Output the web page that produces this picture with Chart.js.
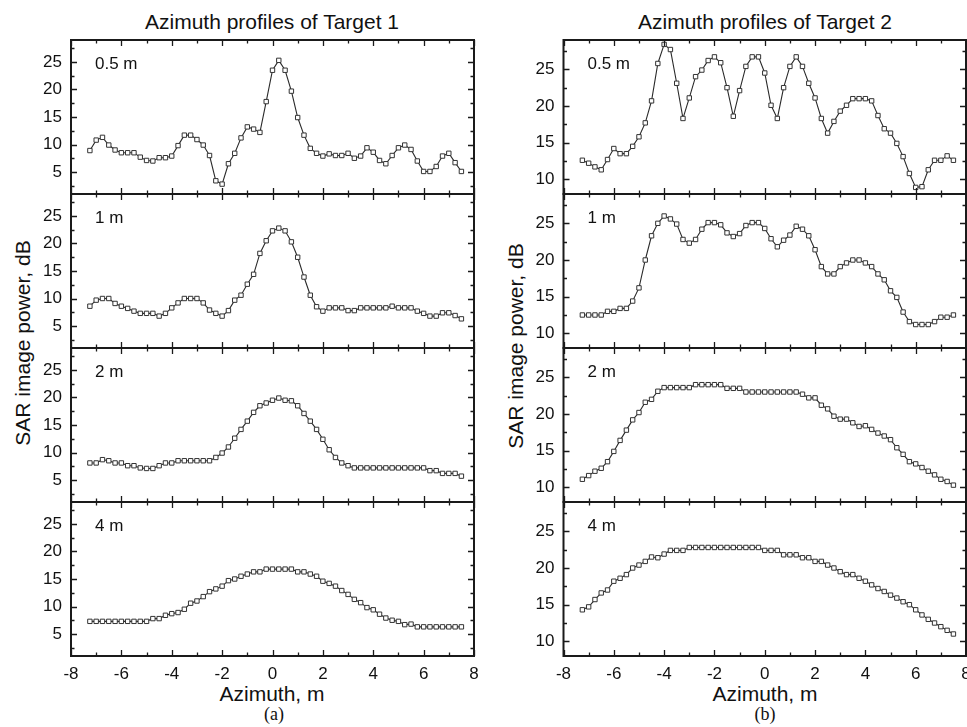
<!DOCTYPE html>
<html>
<head>
<meta charset="utf-8">
<script src="https://cdn.jsdelivr.net/npm/chart.js@4/dist/chart.umd.min.js"></script>
<style>
    html, body { margin: 0; padding: 0; background: #fff; }
    body { width: 967px; height: 727px; overflow: hidden; position: relative; font-family: "Liberation Sans", Arial, sans-serif; color: #111; }
    canvas { position: absolute; }
    .txt { position: absolute; white-space: nowrap; transform: translate(-50%, -50%); line-height: 1; }
    .panel-label { position: absolute; white-space: nowrap; font-size: 17px; line-height: 1; transform: translateY(-50%); }
</style>
</head>
<body>

<div class="txt" style="left:272px; top:21px; font-size:21px;">Azimuth profiles of Target 1</div>
<div class="txt" style="left:765px; top:21px; font-size:21px;">Azimuth profiles of Target 2</div>
<div class="txt" style="left:22px; top:343px; font-size:21px; transform: translate(-50%, -50%) rotate(-90deg);">SAR image power, dB</div>
<div class="txt" style="left:515px; top:346px; font-size:21px; transform: translate(-50%, -50%) rotate(-90deg);">SAR image power, dB</div>
<div class="txt" style="left:272px; top:693px; font-size:21px;">Azimuth, m</div>
<div class="txt" style="left:765px; top:693px; font-size:21px;">Azimuth, m</div>
<div class="txt" style="left:274px; top:714px; font-size:18px; font-family:'Liberation Serif', 'Times New Roman', serif;">(a)</div>
<div class="txt" style="left:765px; top:714px; font-size:18px; font-family:'Liberation Serif', 'Times New Roman', serif;">(b)</div>

<script>
// data
const azimuth = [-7.25, -7, -6.75, -6.5, -6.25, -6, -5.75, -5.5, -5.25, -5, -4.75, -4.5, -4.25, -4, -3.75, -3.5, -3.25, -3, -2.75, -2.5,
    -2.25, -2, -1.75, -1.5, -1.25, -1, -0.75, -0.5, -0.25, 0, 0.25, 0.5, 0.75, 1, 1.25, 1.5, 1.75, 2, 2.25, 2.5,
    2.75, 3, 3.25, 3.5, 3.75, 4, 4.25, 4.5, 4.75, 5, 5.25, 5.5, 5.75, 6, 6.25, 6.5, 6.75, 7, 7.25, 7.5];

const panelLabels = ['0.5 m', '1 m', '2 m', '4 m'];

// Target 1
const t1_05 = [8.9, 10.8, 11.3, 9.9, 9.0, 8.5, 8.5, 8.5, 7.7, 7.1, 7.0, 7.6, 7.6, 7.9, 9.8, 11.7, 11.7, 10.9, 9.9, 8.0,
    3.4, 2.8, 6.5, 8.4, 11.2, 13.2, 12.8, 12.2, 17.8, 23.5, 25.3, 23.5, 19.7, 14.9, 11.7, 9.3, 8.4, 7.9, 8.3, 8.0,
    8.0, 8.4, 7.5, 7.9, 9.4, 8.6, 7.1, 6.5, 8.0, 9.4, 9.9, 9.1, 7.0, 5.1, 5.1, 6.0, 7.9, 8.4, 6.7, 5.1];
const t1_1 = [8.6, 9.7, 10.0, 10.0, 9.1, 8.6, 8.2, 7.7, 7.3, 7.3, 7.3, 6.8, 7.3, 8.3, 9.2, 10.0, 10.0, 10.0, 9.2, 7.9,
    7.3, 6.8, 7.8, 9.7, 10.6, 12.6, 14.4, 18.2, 20.5, 22.3, 22.8, 22.3, 20.3, 17.5, 13.9, 10.6, 8.5, 7.7, 8.3, 8.3,
    8.3, 7.8, 7.8, 8.3, 8.3, 8.3, 8.3, 8.3, 8.6, 8.3, 8.3, 8.3, 7.7, 7.3, 6.8, 6.8, 7.4, 7.4, 6.9, 6.3];
const t1_2 = [8.1, 8.1, 8.7, 8.5, 8.1, 8.1, 7.6, 7.6, 7.2, 7.1, 7.1, 7.6, 8.1, 8.1, 8.5, 8.5, 8.5, 8.5, 8.5, 8.5,
    9.1, 9.9, 11.0, 12.6, 14.2, 15.7, 17.3, 18.5, 19.0, 19.5, 19.9, 19.5, 19.4, 18.5, 17.1, 15.7, 14.2, 12.4, 10.5, 9.1,
    8.1, 7.6, 7.2, 7.2, 7.2, 7.2, 7.2, 7.2, 7.2, 7.2, 7.2, 7.2, 7.2, 7.2, 6.7, 6.7, 6.2, 6.2, 6.2, 5.7];
const t1_4 = [7.3, 7.3, 7.3, 7.3, 7.3, 7.3, 7.3, 7.3, 7.3, 7.3, 7.8, 7.8, 8.4, 8.7, 8.9, 9.5, 10.6, 11.0, 11.8, 12.7,
    13.2, 13.7, 14.7, 15.0, 15.5, 15.9, 16.3, 16.3, 16.8, 16.8, 16.8, 16.8, 16.8, 16.3, 16.3, 15.9, 15.5, 14.6, 14.2, 13.7,
    12.9, 12.2, 11.3, 10.7, 9.8, 9.4, 8.6, 7.9, 7.5, 7.3, 6.7, 6.8, 6.3, 6.3, 6.3, 6.3, 6.3, 6.3, 6.3, 6.3];

// Target 2
const t2_05 = [12.6, 12.2, 11.7, 11.3, 12.7, 14.2, 13.5, 13.5, 14.5, 15.8, 17.7, 20.7, 25.8, 28.4, 27.7, 23.1, 18.3, 21.1, 24.0, 24.9,
    26.2, 26.7, 25.9, 22.5, 18.6, 22.1, 25.4, 26.7, 26.7, 24.5, 20.1, 18.3, 22.5, 25.4, 26.7, 25.4, 23.1, 21.1, 18.3, 16.3,
    17.9, 19.3, 20.1, 21.0, 21.0, 21.0, 20.7, 18.7, 16.9, 16.3, 14.9, 13.1, 10.8, 8.9, 9.0, 11.3, 12.6, 12.6, 13.2, 12.6];
const t2_1 = [12.5, 12.5, 12.5, 12.5, 13.0, 13.0, 13.4, 13.4, 14.4, 16.2, 20.0, 23.3, 25.0, 26.0, 25.6, 24.9, 22.8, 22.3, 22.8, 24.2,
    25.1, 25.1, 24.8, 23.7, 23.2, 23.6, 24.7, 25.1, 25.1, 24.3, 22.9, 21.8, 22.7, 23.4, 24.6, 24.2, 23.3, 21.4, 19.1, 18.1,
    18.1, 19.1, 19.6, 20.0, 20.0, 19.6, 19.1, 18.1, 17.3, 15.8, 14.9, 12.9, 11.6, 11.2, 11.2, 11.2, 11.6, 12.2, 12.2, 12.5];
const t2_2 = [11.1, 11.6, 12.2, 12.6, 13.5, 14.9, 16.4, 17.8, 19.2, 20.2, 21.6, 22.0, 23.1, 23.6, 23.6, 23.6, 23.6, 23.6, 24.0, 24.0,
    24.0, 24.0, 24.0, 23.5, 23.5, 23.5, 23.0, 23.0, 23.0, 23.0, 23.0, 23.0, 23.0, 23.0, 23.0, 22.7, 22.2, 22.2, 21.2, 20.7,
    19.7, 19.3, 19.3, 18.8, 18.3, 18.4, 17.9, 17.4, 17.0, 16.5, 15.4, 14.5, 13.5, 13.2, 12.7, 12.2, 11.7, 11.1, 10.8, 10.3];
const t2_4 = [14.3, 14.7, 15.7, 16.6, 17.0, 18.2, 18.6, 19.1, 20.0, 20.4, 20.9, 21.5, 21.4, 21.9, 22.4, 22.4, 22.4, 22.8, 22.8, 22.8,
    22.8, 22.8, 22.8, 22.8, 22.8, 22.8, 22.8, 22.8, 22.8, 22.4, 22.4, 22.4, 21.8, 21.8, 21.8, 21.4, 21.4, 20.9, 20.9, 20.4,
    20.0, 19.5, 19.1, 19.1, 18.6, 18.2, 17.7, 17.2, 16.8, 16.3, 15.9, 15.4, 15.0, 14.3, 13.6, 13.0, 12.5, 12.0, 11.5, 11.0];

// tick labels
const xTicks = [-8, -6, -4, -2, 0, 2, 4, 6, 8];
const leftYTicks = [5, 10, 15, 20, 25];
const rightYTicks = [10, 15, 20, 25];

// layout
const panelEdges = [40, 194, 348, 502, 656];
const fontFamily = '"Liberation Sans", Arial, sans-serif';

const columns = [
    { left: 0, width: 490, axisWidth: 71, padRight: 16, yMin: 1, yMax: 29, yTicks: leftYTicks, series: [t1_05, t1_1, t1_2, t1_4] },
    { left: 480, width: 500, axisWidth: 83.5, padRight: 14, yMin: 8, yMax: 29, yTicks: rightYTicks, series: [t2_05, t2_1, t2_2, t2_4] }
];

// box around the plot with inward ticks on all four sides
const framePlugin = {
    id: 'frame',
    afterDatasetsDraw(chart) {
        const { ctx, chartArea: a, scales } = chart;
        const x = scales.x, y = scales.y;
        ctx.save();
        ctx.strokeStyle = '#1a1a1a';
        ctx.lineWidth = 1.3;
        ctx.beginPath();
        for (let v = -8; v <= 8; v++) {
            const len = v % 2 === 0 ? 6 : 3.5;
            const px = Math.round(x.getPixelForValue(v)) + 0.5;
            ctx.moveTo(px, a.top); ctx.lineTo(px, a.top + len);
            ctx.moveTo(px, a.bottom); ctx.lineTo(px, a.bottom - len);
        }
        for (let v = Math.ceil(y.min / 2.5) * 2.5; v <= y.max; v += 2.5) {
            const len = v % 5 === 0 ? 6 : 3.5;
            const py = Math.round(y.getPixelForValue(v)) + 0.5;
            ctx.moveTo(a.left, py); ctx.lineTo(a.left + len, py);
            ctx.moveTo(a.right, py); ctx.lineTo(a.right - len, py);
        }
        ctx.stroke();
        ctx.lineWidth = 2;
        ctx.strokeRect(a.left, a.top, a.right - a.left, a.bottom - a.top);
        ctx.restore();
    }
};

columns.forEach(col => {
    col.series.forEach((values, k) => {
        const isBottom = k === col.series.length - 1;
        const top = panelEdges[k] - 10;
        const height = (panelEdges[k + 1] - panelEdges[k]) + 10 + (isBottom ? 30 : 10);

        const canvas = document.createElement('canvas');
        canvas.width = col.width;
        canvas.height = height;
        canvas.style.left = col.left + 'px';
        canvas.style.top = top + 'px';
        document.body.appendChild(canvas);

        const label = document.createElement('div');
        label.className = 'panel-label';
        label.textContent = panelLabels[k];
        label.style.left = (col.left + col.axisWidth + 24) + 'px';
        label.style.top = (panelEdges[k] + 23) + 'px';
        document.body.appendChild(label);

        new Chart(canvas.getContext('2d'), {
            type: 'line',
            data: {
                datasets: [{
                    data: azimuth.map((a, i) => ({ x: a, y: values[i] })),
                    borderColor: '#2a2a2a',
                    borderWidth: 1.1,
                    tension: 0,
                    pointStyle: 'rect',
                    pointRadius: 3.1,
                    pointBackgroundColor: '#ffffff',
                    pointBorderColor: '#333333',
                    pointBorderWidth: 1
                }]
            },
            options: {
                responsive: false,
                animation: false,
                devicePixelRatio: 1,
                layout: { padding: { top: 10, bottom: isBottom ? 0 : 10, left: 0, right: col.padRight } },
                plugins: { legend: { display: false }, tooltip: { enabled: false } },
                scales: {
                    x: {
                        type: 'linear',
                        min: -8,
                        max: 8,
                        display: isBottom,
                        afterBuildTicks: s => { s.ticks = xTicks.map(v => ({ value: v })); },
                        afterFit: s => {
                            s.height = isBottom ? 30 : 0;
                            s.paddingLeft = 0;
                            s.paddingRight = 0;
                        },
                        grid: { display: false, drawTicks: false },
                        border: { display: false },
                        ticks: { padding: 8, color: '#111', maxRotation: 0, font: { family: fontFamily, size: 17 } }
                    },
                    y: {
                        min: col.yMin,
                        max: col.yMax,
                        afterBuildTicks: s => { s.ticks = col.yTicks.map(v => ({ value: v })); },
                        afterFit: s => {
                            s.width = col.axisWidth;
                            s.paddingTop = 0;
                            s.paddingBottom = 0;
                        },
                        grid: { display: false, drawTicks: false },
                        border: { display: false },
                        ticks: { padding: 9, color: '#111', font: { family: fontFamily, size: 17 } }
                    }
                }
            },
            plugins: [framePlugin]
        });
    });
});
</script>
</body>
</html>
